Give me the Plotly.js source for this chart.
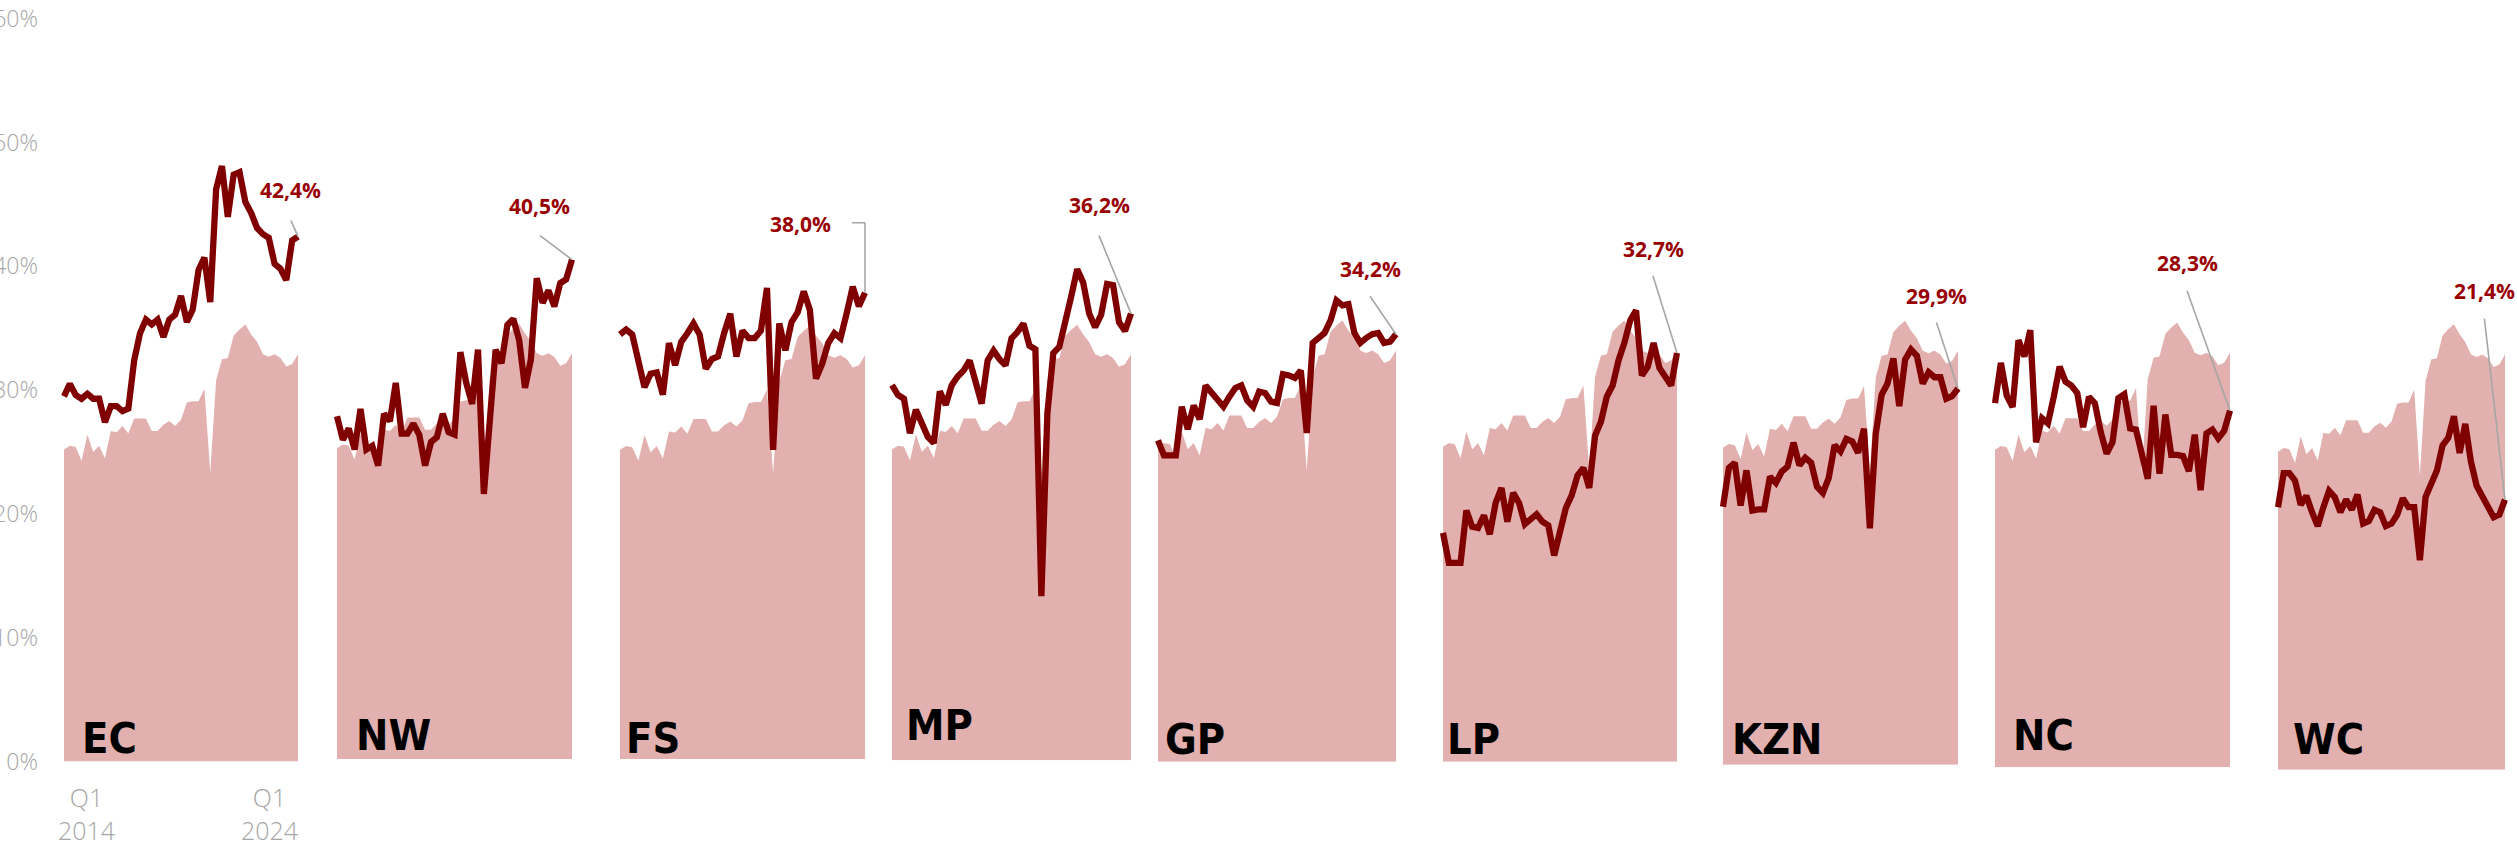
<!DOCTYPE html>
<html>
<head>
<meta charset="utf-8">
<script src="https://cdn.plot.ly/plotly-3.0.1.min.js"></script>
<style>
html,body{margin:0;padding:0;background:#fff;overflow:hidden}
#chart{width:2517px;height:841px}
</style>
</head>
<body>
<div id="chart"></div>
<script>
// ---------- DATA ----------
const quarters = ["Q1 2014","Q2 2014","Q3 2014","Q4 2014","Q1 2015","Q2 2015","Q3 2015","Q4 2015",
  "Q1 2016","Q2 2016","Q3 2016","Q4 2016","Q1 2017","Q2 2017","Q3 2017","Q4 2017",
  "Q1 2018","Q2 2018","Q3 2018","Q4 2018","Q1 2019","Q2 2019","Q3 2019","Q4 2019",
  "Q1 2020","Q2 2020","Q3 2020","Q4 2020","Q1 2021","Q2 2021","Q3 2021","Q4 2021",
  "Q1 2022","Q2 2022","Q3 2022","Q4 2022","Q1 2023","Q2 2023","Q3 2023","Q4 2023","Q1 2024"];

const provinces = ["EC","NW","FS","MP","GP","LP","KZN","NC","WC"];

const national = [25.2,25.5,25.4,24.3,26.4,25.0,25.5,24.5,26.7,26.6,27.1,26.5,27.7,27.7,27.7,26.7,26.7,27.2,27.5,27.1,27.6,29.0,29.1,29.1,30.1,23.3,30.8,32.5,32.6,34.4,34.9,35.3,34.5,33.9,32.9,32.7,32.9,32.6,31.9,32.1,32.9];

const ec  = [29.5,30.5,29.6,29.3,29.7,29.3,29.3,27.4,28.7,28.7,28.3,28.5,32.4,34.6,35.7,35.3,35.7,34.3,35.7,36.1,37.6,35.5,36.5,39.7,40.7,37.1,46.2,48.1,44.0,47.4,47.6,45.2,44.3,43.1,42.6,42.3,40.2,39.8,38.9,42.1,42.4];
const nw  = [27.8,25.9,26.8,25.1,28.4,25.1,25.4,23.8,28.0,27.4,30.5,26.4,26.4,27.2,26.3,23.8,25.7,26.1,28.0,26.5,26.3,33.0,30.5,28.8,33.2,21.5,27.4,33.2,32.1,35.2,35.7,34.0,30.1,32.4,39.0,37.0,38.0,36.7,38.6,38.9,40.5];
const fs  = [34.6,35.0,34.6,32.4,30.3,31.4,31.5,29.7,33.9,32.1,34.0,34.7,35.5,34.6,31.8,32.6,32.8,34.7,36.3,32.8,34.9,34.3,34.3,34.9,38.4,25.2,35.5,33.3,35.6,36.4,38.1,36.6,31.0,32.2,33.9,34.7,34.3,36.3,38.5,36.9,38.0];
const mp  = [30.4,29.6,29.3,26.5,28.4,27.3,26.2,25.7,29.9,28.8,30.4,31.1,31.6,32.4,30.6,28.9,32.4,33.2,32.5,32.0,34.2,34.7,35.4,33.6,33.3,13.3,28.1,33.0,33.5,35.4,37.6,39.8,38.7,36.2,35.1,36.1,38.6,38.5,35.5,34.8,36.2];
const gp  = [25.7,24.5,24.5,24.5,28.4,26.6,28.5,27.4,30.1,29.5,29.0,28.4,29.2,29.9,30.1,28.9,28.4,29.6,29.5,28.8,28.7,31.0,30.9,30.7,31.3,26.3,33.5,33.9,34.3,35.3,36.9,36.5,36.6,34.3,33.5,33.9,34.2,34.3,33.5,33.6,34.2];
const lp  = [18.3,15.9,15.9,15.9,20.1,18.8,18.7,19.7,18.2,20.7,21.9,19.2,21.5,20.7,19.0,19.4,19.8,19.2,18.9,16.5,18.4,20.3,21.3,22.9,23.5,21.9,26.1,27.2,29.2,30.1,32.1,33.5,35.3,36.1,30.9,31.6,33.5,31.5,30.8,30.1,32.7];
const kzn = [20.5,23.6,24.0,20.6,23.4,20.2,20.3,20.3,22.9,22.4,23.3,23.7,25.6,23.8,24.4,24.0,22.1,21.6,22.8,25.4,24.9,25.9,25.7,24.8,26.7,18.8,26.3,29.4,30.3,32.3,28.5,32.2,33.0,32.5,30.3,31.2,30.8,30.8,29.1,29.3,29.9];
const nc  = [28.9,32.1,29.5,28.6,33.9,32.6,34.7,25.8,27.7,27.3,29.4,31.8,30.6,30.3,29.7,27.0,29.4,28.9,26.6,24.9,25.8,29.3,29.6,26.9,26.8,24.7,22.9,28.7,23.3,28.0,24.8,24.8,24.7,23.5,26.4,22.0,26.5,26.8,26.1,26.7,28.3];
const wc  = [20.8,23.5,23.5,22.9,21.0,21.7,20.4,19.3,20.8,22.1,21.6,20.4,21.4,20.6,21.8,19.5,19.7,20.6,20.4,19.3,19.5,20.2,21.5,20.8,20.8,16.6,21.6,22.6,23.7,25.7,26.3,28.0,25.1,27.4,24.4,22.5,21.6,20.9,20.0,20.2,21.4];

const yTickVals = [0,10,20,30,40,50,60];
const yTickText = ["0%","10%","20%","30%","40%","50%","60%"];
const xTickText = ["Q1<br>2014","Q1<br>2024"];

const series = [ec,nw,fs,mp,gp,lp,kzn,nc,wc];

// ---------- LAYOUT (pixel geometry) ----------
const W = 2517, H = 841;
const panelLeft  = [64,337,620,892,1158,1443,1723,1995,2278];
const panelRight = [298,572,865,1131,1396,1677,1958,2230,2505];
const panelBase  = [761.5,759,759,760.3,761.7,761.7,764.7,767.3,769.7];
const panelScale = [12.38,12.33,12.27,12.34,12.5,12.5,12.58,12.6,12.62];
const nameLeft   = [80,354,624,904,1163,1445,1730,2011,2291];
const nameMid    = [737.5,735,738,725,738.5,739,739,735,739];
const valMidX    = [290,539.6,800.5,1099,1370,1653.6,1936,2187,2484];
const valMidY    = [190,206,224,205,269,249,296,262.5,291];
const leadAX     = [-7,-32,0,-32,-26,-24,-21.5,-43,-20.6];
const leadAY     = [-16,-24,-70,-78,-38,-77,-66,-120,-181];

const LINE = "#800000", AREA = "#e2b0ae", GREY = "#a6a6a6", LABEL = "#990000";
const NAME_FONT = "'DejaVu Sans Condensed', 'DejaVu Sans', sans-serif";
const idx = quarters.map((q,i)=>i);

const traces = [];
const layout = {
  width: W, height: H,
  margin: {l:0,r:0,t:0,b:0,pad:0},
  paper_bgcolor: "#fff", plot_bgcolor: "rgba(0,0,0,0)",
  showlegend: false,
  annotations: [], shapes: []
};

provinces.forEach((p,i)=>{
  const n = i===0 ? "" : String(i+1);
  const xa = "x"+n, ya = "y"+n;
  const step = (panelRight[i]-panelLeft[i])/(quarters.length-1);
  layout["xaxis"+n] = {
    domain: [(panelLeft[i]-0.5*step)/W, (panelRight[i]+0.5*step)/W],
    range: [-0.5, quarters.length-0.5],
    showgrid:false, zeroline:false, showline:false, showticklabels:false, ticks:"",
    anchor: ya, fixedrange:true
  };
  const b = panelBase[i], s = panelScale[i];
  layout["yaxis"+n] = {
    domain: [1 - b/H, 1 - (b - 60*s)/H],
    range: [0,60],
    showgrid:false, zeroline:false, showline:false, ticks:"",
    showticklabels: i===0,
    tickvals: yTickVals, ticktext: yTickText,
    tickfont: {family:"Open Sans", size:23, color:GREY, weight:300},
    ticklabelstandoff: 22,
    anchor: xa, fixedrange:true
  };
  traces.push({
    x: idx, y: national, xaxis: xa, yaxis: ya,
    type: "scatter", mode: "lines", fill: "tozeroy",
    fillcolor: AREA, line: {width:0, color:AREA}, hoverinfo:"skip"
  });
  traces.push({
    x: idx, y: series[i], xaxis: xa, yaxis: ya,
    type: "scatter", mode: "lines", name: p,
    line: {color: LINE, width: 6.3}
  });
  // province name
  layout.annotations.push({
    xref:"paper", yref:"paper", x: nameLeft[i]/W, y: 1 - nameMid[i]/H,
    xanchor:"left", yanchor:"middle", showarrow:false, text: p,
    font:{family:NAME_FONT, size:43, color:"#000", weight:700}
  });
  // value label
  const last = series[i][series[i].length-1];
  layout.annotations.push({
    xref:"paper", yref:"paper", x: valMidX[i]/W, y: 1 - valMidY[i]/H,
    xanchor:"center", yanchor:"middle", showarrow:false,
    text: last.toFixed(1).replace(".",",") + "%",
    font:{family:"Open Sans", size:21, color:LABEL, weight:700}
  });
  // leader line to last point (pixel-sized shape anchored on the last data point)
  layout.shapes.push({
    type:"line", xref: xa, yref: ya,
    xsizemode:"pixel", ysizemode:"pixel",
    xanchor: quarters.length-1, yanchor: last,
    x0: leadAX[i], y0: -leadAY[i], x1: 0, y1: 0,
    line:{color:GREY, width:1.6}, layer:"above"
  });
  if (p === "FS") {
    layout.shapes.push({
      type:"line", xref: xa, yref: ya,
      xsizemode:"pixel", ysizemode:"pixel",
      xanchor: quarters.length-1, yanchor: last,
      x0: -13, y0: -leadAY[i], x1: 0, y1: -leadAY[i],
      line:{color:GREY, width:1.6}, layer:"above"
    });
  }
});

// x tick labels under first panel
layout.annotations.push({
  xref:"paper", yref:"paper", x: 56/W, y: 1 - 813.5/H,
  xanchor:"left", yanchor:"middle", align:"center", showarrow:false,
  text: xTickText[0], font:{family:"Open Sans", size:25, color:GREY, weight:300}
});
layout.annotations.push({
  xref:"paper", yref:"paper", x: 300/W, y: 1 - 813.5/H,
  xanchor:"right", yanchor:"middle", align:"center", showarrow:false,
  text: xTickText[1], font:{family:"Open Sans", size:25, color:GREY, weight:300}
});

Plotly.newPlot("chart", traces, layout, {displayModeBar:false, staticPlot:true});
</script>
</body>
</html>
